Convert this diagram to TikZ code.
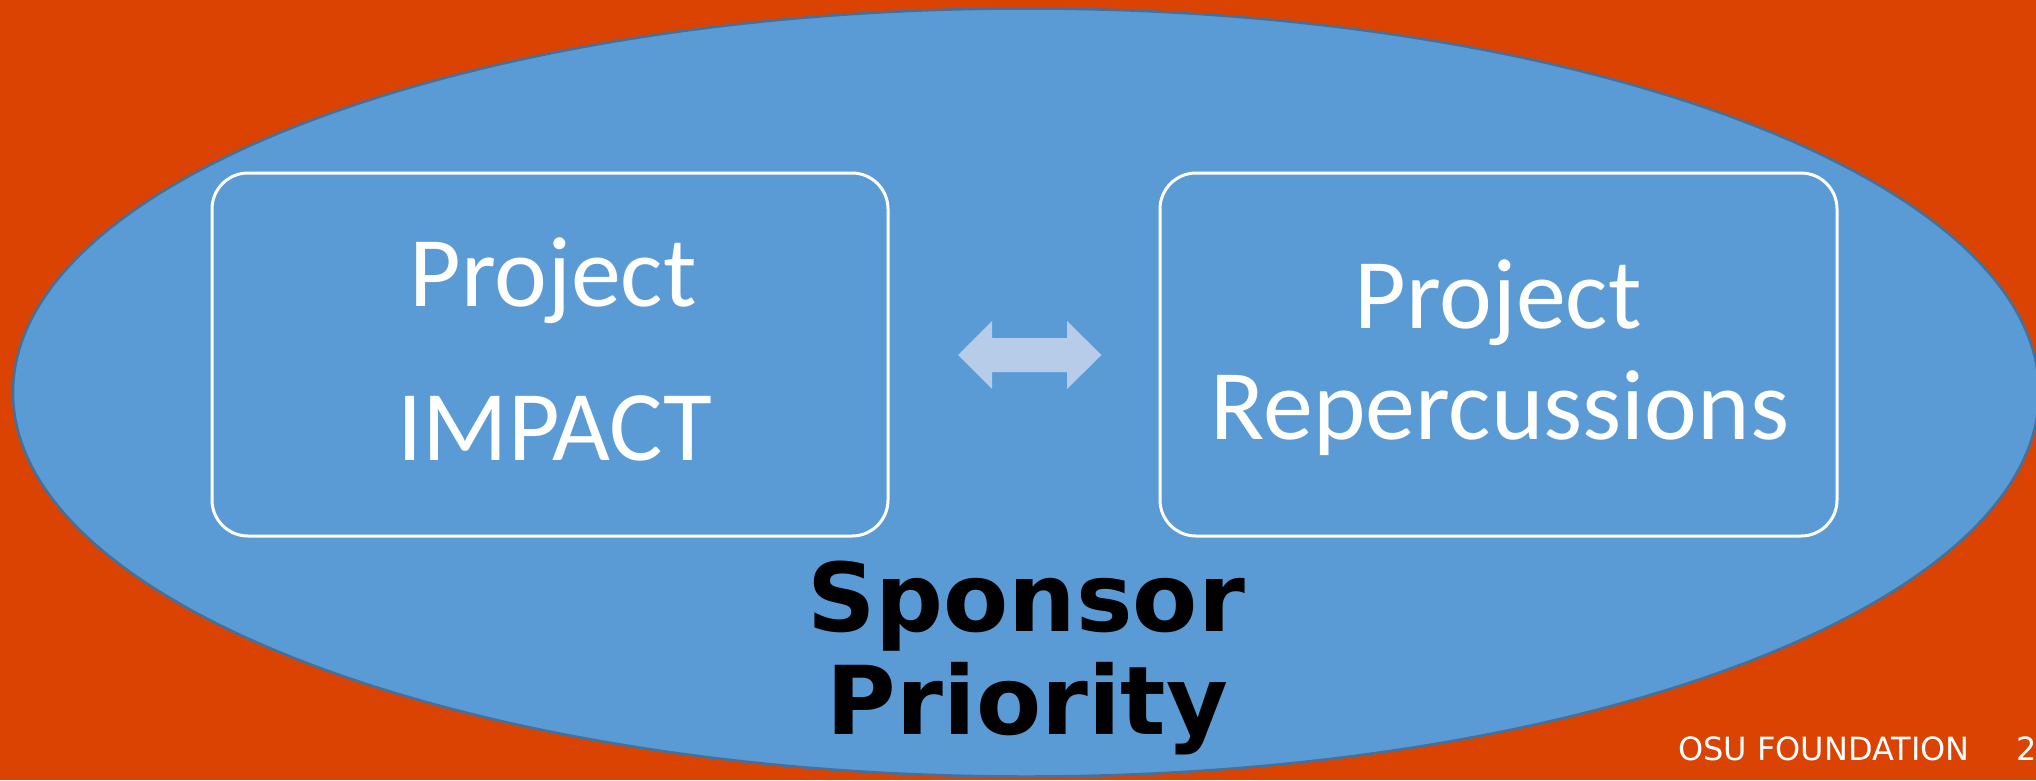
\documentclass[tikz,border=0pt]{standalone}
\usepackage{fontspec}
\setmainfont{Carlito}
\newfontfamily\verdanalike{DejaVu Sans}
\usetikzlibrary{shapes.geometric}

\definecolor{slidebg}{RGB}{218,67,2}
\definecolor{ovalfill}{RGB}{91,155,213}
\definecolor{ovalline}{RGB}{65,113,156}
\definecolor{arrowfill}{RGB}{182,204,233}

\tikzset{
  framebox/.style={draw=white, line width=3pt, rounded corners=36pt,
    minimum width=676pt, minimum height=363pt, inner sep=0pt},
  boxtext/.style={text=white, anchor=base, inner sep=0pt,
    font=\fontsize{100}{112}\selectfont},
  titletext/.style={text=black, anchor=base, inner sep=0pt,
    font=\verdanalike\bfseries\fontsize{95}{103}\selectfont},
  footer/.style={text=white, anchor=base west, inner sep=0pt,
    font=\verdanalike\fontsize{32}{38}\selectfont}
}

\begin{document}
\begin{tikzpicture}[x=1pt,y=-1pt]
  % slide background
  \fill[slidebg] (0,0) rectangle (2036,780);
  \useasboundingbox (0,0) rectangle (2036,780);

  % large oval
  \node[ellipse, fill=ovalfill, draw=ovalline, line width=2.5pt, inner sep=0pt,
        minimum width=2026pt, minimum height=768pt] (field) at (1026,392.5) {};

  % two framed boxes
  \node[framebox] (impactbox) at (550,354.5) {};
  \node[framebox, minimum width=677pt] (repbox) at (1498.5,354.5) {};

  % box captions
  \node[boxtext] (impact1) at (553,306) {Project};
  \node[boxtext] (impact2) at (555,460) {IMPACT};
  \node[boxtext] (rep1) at (1498,328) {Project};
  \node[boxtext] (rep2) at (1500,439) {Repercussions};

  % double-headed arrow between the boxes
  \coordinate (arrowc) at (1029.5,355);
  \fill[arrowfill] ([xshift=-71.5pt]arrowc) -- ++(34,-34) -- ++(0,17)
    -- ++(75,0) -- ++(0,-17) -- ++(34.5,34) -- ++(-34.5,34) -- ++(0,-17)
    -- ++(-75,0) -- ++(0,17) -- cycle;

  % title inside the oval
  \node[titletext] (title1) at (1026,631) {Sponsor};
  \node[titletext] (title2) at (1027.5,734) {Priority};

  % footer
  \node[footer] (foot) at (1678,760) {OSU FOUNDATION};
  \node[footer] (pagenum) at (2016,760) {2};
\end{tikzpicture}
\end{document}
